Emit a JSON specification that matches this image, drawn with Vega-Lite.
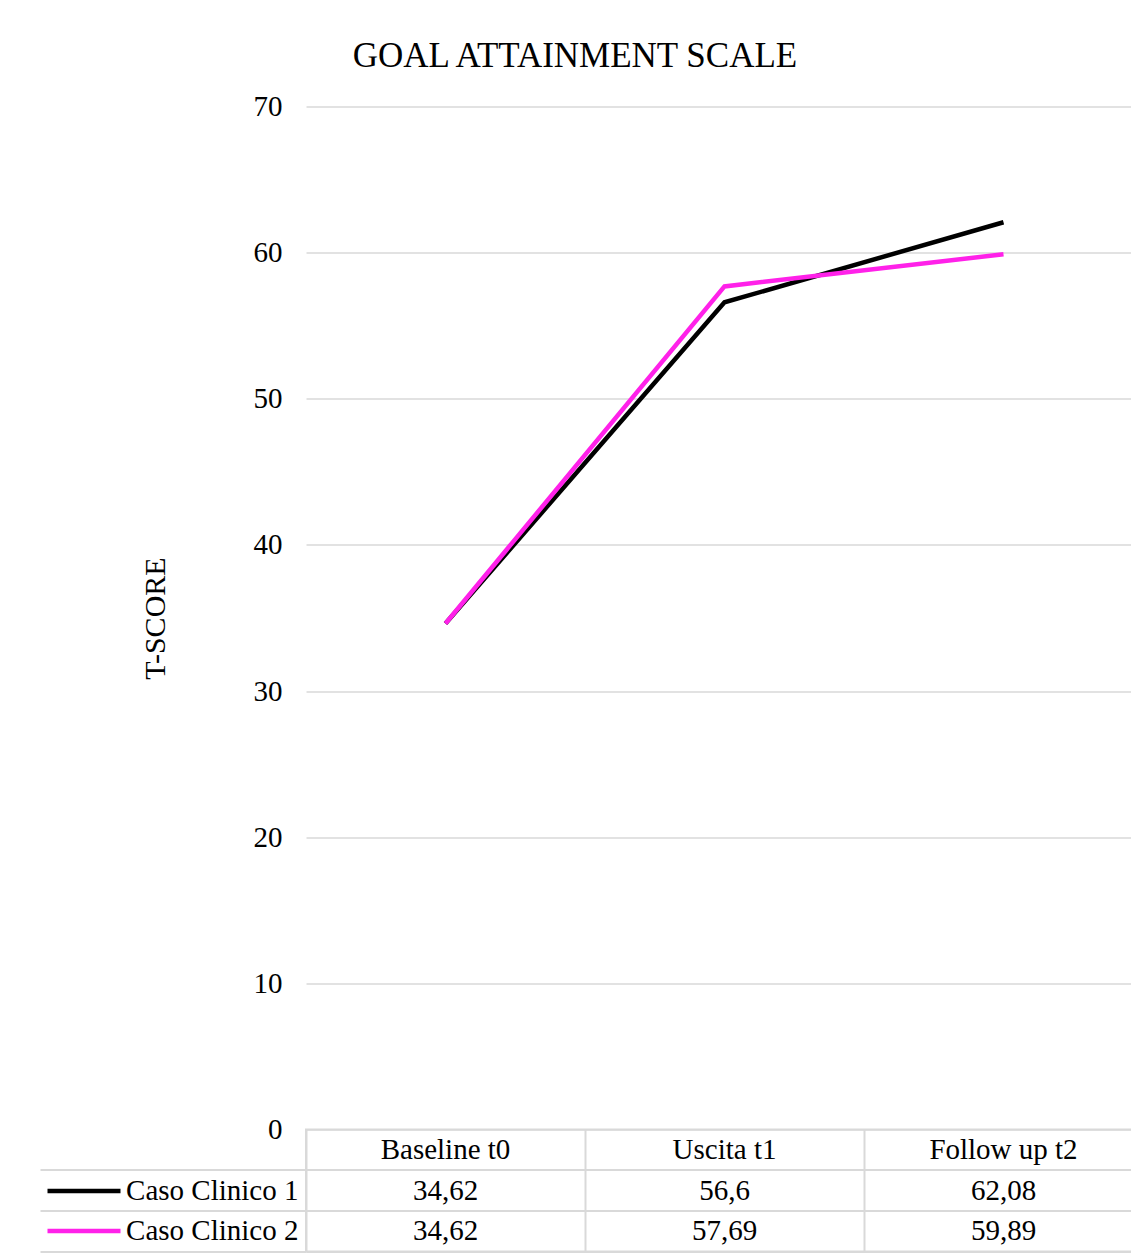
{
  "$schema": "https://vega.github.io/schema/vega-lite/v6.json",
  "padding": {"left": 38, "top": 38.5, "right": -13, "bottom": 6},
  "background": "white",
  "title": {"text": "GOAL ATTAINMENT SCALE", "font": "Liberation Serif", "fontSize": 35, "fontWeight": "normal", "color": "black", "anchor": "middle", "offset": 19, "dx": -16},
  "config": {
    "font": "Liberation Serif",
    "view": {"stroke": null},
    "locale": {"number": {"decimal": ",", "thousands": ".", "grouping": [3], "currency": ["", " €"]}}
  },
  "datasets": {
    "gas": [
      {"t": "Baseline t0", "serie": "Caso Clinico 1", "v": 34.62},
      {"t": "Uscita t1", "serie": "Caso Clinico 1", "v": 56.6},
      {"t": "Follow up t2", "serie": "Caso Clinico 1", "v": 62.08},
      {"t": "Baseline t0", "serie": "Caso Clinico 2", "v": 34.62},
      {"t": "Uscita t1", "serie": "Caso Clinico 2", "v": 57.69},
      {"t": "Follow up t2", "serie": "Caso Clinico 2", "v": 59.89}
    ]
  },
  "spacing": 0,
  "bounds": "flush",
  "vconcat": [
    {
      "width": 837,
      "height": 1023,
      "data": {"name": "gas"},
      "mark": {"type": "line", "strokeWidth": 4.5, "strokeJoin": "miter", "strokeCap": "butt"},
      "encoding": {
        "x": {"field": "t", "type": "nominal", "sort": null,
              "scale": {"type": "point", "domain": ["Baseline t0", "Uscita t1", "Follow up t2"], "padding": 0.5},
              "axis": null},
        "y": {"field": "v", "type": "quantitative",
              "scale": {"domain": [0, 70], "nice": false},
              "axis": {"values": [0, 10, 20, 30, 40, 50, 60, 70], "title": "T-SCORE", "titleFont": "Liberation Serif", "titleFontSize": 30, "titleFontWeight": "normal", "titleColor": "black", "titlePadding": 83,
                       "labelFont": "Liberation Serif", "labelFontSize": 29, "labelColor": "black", "labelPadding": 24,
                       "ticks": false, "domain": false, "grid": true, "gridColor": "#d9d9d9", "gridWidth": 1.5}},
        "color": {"field": "serie", "type": "nominal",
                  "scale": {"domain": ["Caso Clinico 1", "Caso Clinico 2"], "range": ["#000000", "#ff21e9"]},
                  "legend": null}
      }
    },
    {
      "width": 837,
      "height": 122,
      "view": {"stroke": "#d9d9d9", "strokeWidth": 2},
      "resolve": {"axis": {"y": "independent"}},
      "layer": [
        {
          "data": {"name": "gas"},
          "mark": {"type": "text", "font": "Liberation Serif", "fontSize": 29, "color": "black"},
          "encoding": {
            "x": {"field": "t", "type": "nominal", "sort": null,
                  "scale": {"type": "band", "domain": ["Baseline t0", "Uscita t1", "Follow up t2"], "paddingInner": 0, "paddingOuter": 0},
                  "axis": {"labels": false, "ticks": false, "domain": false, "title": null, "grid": true, "gridColor": "#d9d9d9", "gridWidth": 2, "bandPosition": 0}},
            "y": {"field": "serie", "type": "nominal",
                  "scale": {"type": "band", "domain": ["h", "Caso Clinico 1", "Caso Clinico 2"], "paddingInner": 0, "paddingOuter": 0},
                  "axis": {"orient": "left", "title": null, "domain": false, "ticks": true, "tickSize": 266, "tickColor": "#d9d9d9", "tickWidth": 2, "bandPosition": 1,
                           "grid": true, "gridColor": "#d9d9d9", "gridWidth": 2,
                           "labelFont": "Liberation Serif", "labelFontSize": 29, "labelColor": "black", "labelPadding": -258,
                           "labelExpr": "datum.value === 'h' ? '' : datum.value"}},
            "text": {"field": "v", "type": "quantitative", "format": ".4~r"}
          }
        },
        {
          "data": {"name": "gas"},
          "transform": [{"filter": "datum.serie === 'Caso Clinico 1'"}],
          "mark": {"type": "text", "font": "Liberation Serif", "fontSize": 29, "color": "black"},
          "encoding": {
            "x": {"field": "t", "type": "nominal", "sort": null},
            "y": {"datum": "h", "type": "nominal", "axis": null},
            "text": {"field": "t", "type": "nominal"}
          }
        },
        {
          "data": {"name": "gas"},
          "transform": [{"filter": "datum.t === 'Baseline t0'"}],
          "mark": {"type": "point", "opacity": 0},
          "encoding": {
            "y": {"field": "serie", "type": "nominal",
                  "axis": {"orient": "left", "offset": 186, "title": null, "domain": false, "labels": false, "grid": false, "ticks": true, "tickSize": 73, "tickWidth": 4.5,
                           "tickColor": {"condition": [{"test": "datum.value === 'Caso Clinico 1'", "value": "#000000"}, {"test": "datum.value === 'Caso Clinico 2'", "value": "#ff21e9"}], "value": "transparent"}}}
          }
        }
      ]
    }
  ]
}
